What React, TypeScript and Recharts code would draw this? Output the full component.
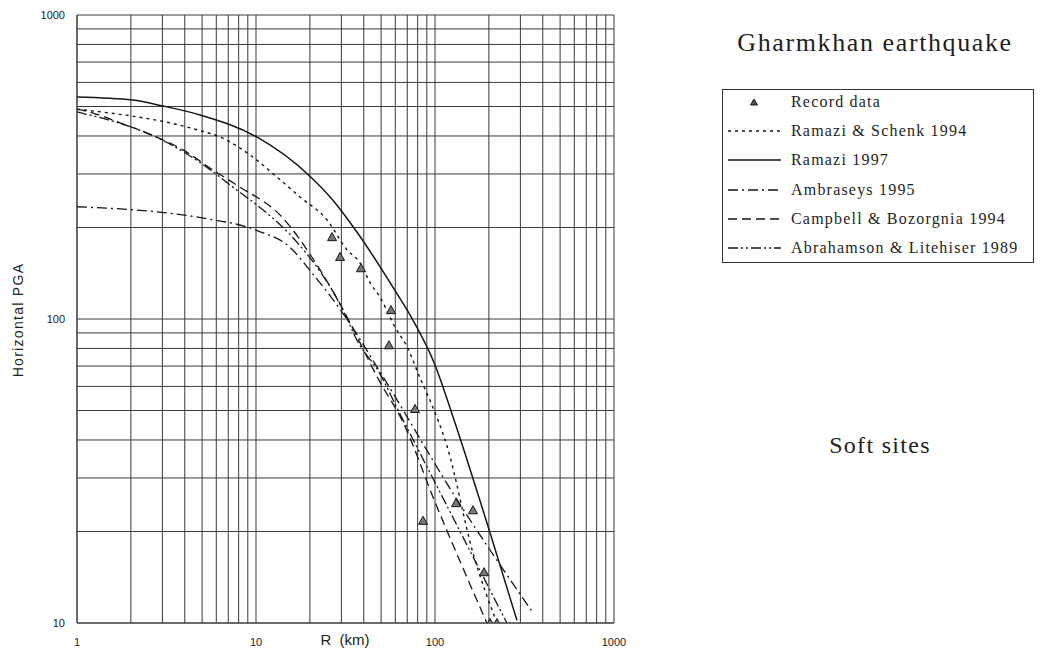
import React from 'react';
import { ComposedChart, Line, Scatter, XAxis, YAxis, CartesianGrid } from 'recharts';

// ---- axis ticks ----
const xTicks = [1, 2, 3, 4, 5, 6, 7, 8, 9, 10, 20, 30, 40, 50, 60, 70, 80, 90, 100, 200, 300, 400, 500, 600, 700, 800, 900, 1000];
const yTicks = [10, 20, 30, 40, 50, 60, 70, 80, 90, 100, 200, 300, 400, 500, 600, 700, 800, 900, 1000];
const xTickLabels = [1, 10, 100, 1000];
const yTickLabels = [10, 100, 1000];

// ---- record data (distance km, PGA) ----
const recordR = [26.6, 29.5, 38.6, 56.8, 55.3, 77.3, 85.7, 131, 163, 188, 203, 222];
const recordPGA = [186, 160, 147, 107, 82, 50.6, 21.7, 24.8, 23.5, 14.7, 10, 10];

// ---- Ramazi & Schenk 1994 ----
const ramaziSchenkR = [1, 4.7, 6.3, 9.6, 13.1, 17.6, 24.9, 32.2, 38.1, 43.3, 49.3, 59.8, 69.8, 82.5, 93.7, 117, 163, 222];
const ramaziSchenkPGA = [490, 419, 397, 341, 293, 252, 212, 169, 153, 132, 118, 94, 81, 64, 54, 38, 17, 10];

// ---- Ramazi 1997 ----
const ramazi97R = [1, 2.05, 3.02, 4.87, 10.1, 20, 26.9, 36.7, 59.8, 75.4, 100, 124, 203, 287];
const ramazi97PGA = [537, 525, 502, 469, 397, 295, 246, 193, 124, 99, 70.6, 49.1, 19.8, 10.2];

// ---- Ambraseys 1995 ----
const ambraseysR = [1, 5, 10, 15.5, 20.5, 32.2, 49.3, 133, 353];
const ambraseysPGA = [234, 215, 196, 172, 142, 100, 67, 25.4, 10.8];

// ---- Campbell & Bozorgnia 1994 ----
const campbellR = [1, 1.23, 1.74, 2.46, 3.91, 5.75, 8.1, 13.6, 22.8, 30, 49.3, 66, 100, 195];
const campbellPGA = [490, 476, 442, 409, 360, 309, 272, 220, 145, 110, 62, 46, 25, 10];

// ---- Abrahamson & Litehiser 1989 ----
const abrahamsonR = [1, 3.2, 5.3, 7.4, 11.5, 16.1, 30.6, 36.7, 49.3, 61.3, 100, 252];
const abrahamsonPGA = [480, 380, 316, 272, 223, 185, 107, 85, 66, 51, 29, 10];

const zip = (r: number[], p: number[]) => r.map((v, i) => ({ r: v, pga: p[i] }));

const records = zip(recordR, recordPGA);
const ramaziSchenk = zip(ramaziSchenkR, ramaziSchenkPGA);
const ramazi97 = zip(ramazi97R, ramazi97PGA);
const ambraseys = zip(ambraseysR, ambraseysPGA);
const campbell = zip(campbellR, campbellPGA);
const abrahamson = zip(abrahamsonR, abrahamsonPGA);

const INK = '#161616';
const DASH_RS = '3 4';
const DASH_AMB = '10 4 2 4';
const DASH_CB = '9 5';
const DASH_AL = '10 3 2 3 2 3';

const Triangle = (props: any) => {
  const { cx, cy } = props;
  if (cx == null || cy == null) return null;
  const s = 4.5;
  return (
    <polygon
      points={`${cx},${cy - s} ${cx - s},${cy + s * 0.8} ${cx + s},${cy + s * 0.8}`}
      fill="#777"
      stroke={INK}
      strokeWidth={1}
    />
  );
};

const legendItems = [
  { label: 'Record data', type: 'marker', dash: '' },
  { label: 'Ramazi & Schenk 1994', type: 'line', dash: DASH_RS },
  { label: 'Ramazi 1997', type: 'line', dash: '' },
  { label: 'Ambraseys 1995', type: 'line', dash: DASH_AMB },
  { label: 'Campbell & Bozorgnia 1994', type: 'line', dash: DASH_CB },
  { label: 'Abrahamson & Litehiser 1989', type: 'line', dash: DASH_AL },
];

const serif = '"Liberation Serif", "DejaVu Serif", serif';
const sans = '"Liberation Sans", Arial, sans-serif';

export default function App() {
  const fmtX = (v: number) => (xTickLabels.includes(v) ? String(v) : '');
  const fmtY = (v: number) => (yTickLabels.includes(v) ? String(v) : '');
  return (
    <div style={{ position: 'absolute', left: 0, top: 0, width: 1040, height: 663, background: '#fff', overflow: 'hidden' }}>
      <div style={{ position: 'absolute', left: 0, top: 0 }}>
        <ComposedChart width={640} height={663} margin={{ top: 15, right: 26, bottom: 0, left: 0 }}>
          <CartesianGrid stroke="#3a3a3a" strokeWidth={1} />
          <XAxis
            type="number"
            dataKey="r"
            scale="log"
            domain={[1, 1000]}
            ticks={xTicks}
            interval={0}
            allowDataOverflow
            tickFormatter={fmtX}
            tickLine={false}
            axisLine={{ stroke: '#3a3a3a' }}
            tickSize={13}
            tickMargin={2}
            height={40}
            tick={{ fontSize: 11, fill: '#222', fontFamily: sans }}
          />
          <YAxis
            type="number"
            dataKey="pga"
            scale="log"
            domain={[10, 1000]}
            ticks={yTicks}
            interval={0}
            allowDataOverflow
            tickFormatter={fmtY}
            tickLine={false}
            axisLine={{ stroke: '#3a3a3a' }}
            tickSize={10}
            tickMargin={2}
            width={77}
            tick={{ fontSize: 11, fill: '#222', fontFamily: sans }}
          />
          <Line data={ramaziSchenk} dataKey="pga" type="monotone" stroke={INK} strokeWidth={1.4} strokeDasharray={DASH_RS} dot={false} isAnimationActive={false} />
          <Line data={ramazi97} dataKey="pga" type="monotone" stroke={INK} strokeWidth={1.5} dot={false} isAnimationActive={false} />
          <Line data={ambraseys} dataKey="pga" type="monotone" stroke={INK} strokeWidth={1.3} strokeDasharray={DASH_AMB} dot={false} isAnimationActive={false} />
          <Line data={campbell} dataKey="pga" type="monotone" stroke={INK} strokeWidth={1.3} strokeDasharray={DASH_CB} dot={false} isAnimationActive={false} />
          <Line data={abrahamson} dataKey="pga" type="monotone" stroke={INK} strokeWidth={1.3} strokeDasharray={DASH_AL} dot={false} isAnimationActive={false} />
          <Scatter data={records} dataKey="pga" shape={Triangle} isAnimationActive={false} />
        </ComposedChart>
      </div>

      {/* axis titles */}
      <div style={{ position: 'absolute', left: 300, top: 630, width: 90, textAlign: 'center', fontFamily: sans, fontSize: 15, color: '#222', lineHeight: '20px', wordSpacing: 4 }}>
        R (km)
      </div>
      <div style={{ position: 'absolute', left: 18 - 80, top: 320 - 10, width: 160, height: 20, textAlign: 'center', fontFamily: sans, fontSize: 14, color: '#222', lineHeight: '20px', letterSpacing: 1.3, transform: 'rotate(-90deg)' }}>
        Horizontal PGA
      </div>

      {/* title */}
      <div style={{ position: 'absolute', left: 700, top: 26, width: 350, textAlign: 'center', fontFamily: serif, fontSize: 26, color: '#1e1e1e', lineHeight: '34px', letterSpacing: 1.6 }}>
        Gharmkhan earthquake
      </div>

      {/* legend */}
      <div style={{ position: 'absolute', left: 722, top: 89, width: 312, height: 174, border: '1px solid #333', boxSizing: 'border-box', background: '#fff' }}>
        {legendItems.map((it, i) => (
          <div key={it.label} style={{ position: 'absolute', left: 0, top: 12 + i * 29.2 - 11, height: 22, width: 310 }}>
            <svg width={62} height={22} style={{ position: 'absolute', left: 0, top: 0 }}>
              {it.type === 'marker' ? (
                <polygon points="31,8 27.5,14 34.5,14" fill="#555" stroke={INK} strokeWidth={1} />
              ) : (
                <line x1={5} y1={11} x2={58} y2={11} stroke={INK} strokeWidth={1.3} strokeDasharray={it.dash || undefined} />
              )}
            </svg>
            <span style={{ position: 'absolute', left: 68, top: 0, lineHeight: '22px', fontFamily: serif, fontSize: 16, letterSpacing: 1.2, color: '#1e1e1e', whiteSpace: 'nowrap' }}>
              {it.label}
            </span>
          </div>
        ))}
      </div>

      <div style={{ position: 'absolute', left: 780, top: 430, width: 200, textAlign: 'center', fontFamily: serif, fontSize: 24, color: '#1e1e1e', lineHeight: '30px', letterSpacing: 1.3 }}>
        Soft sites
      </div>
    </div>
  );
}
